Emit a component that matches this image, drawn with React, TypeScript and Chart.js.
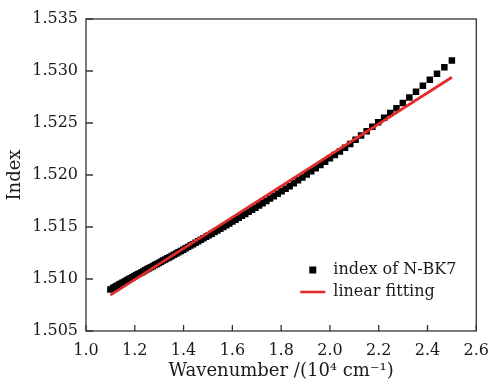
import React, { useEffect, useRef } from "react";
import { Chart, registerables } from "chart.js";

Chart.register(...registerables);

// Wavenumber (10^4 cm^-1) of the measured points
const wavenumber = [
  1.1, 1.1111, 1.1173, 1.1236, 1.1299, 1.1364, 1.1429, 1.1494, 1.1561, 1.1628,
  1.1696, 1.1765, 1.1834, 1.1905, 1.1976, 1.2048, 1.2121, 1.2195, 1.227, 1.2346,
  1.2422, 1.25, 1.2579, 1.2658, 1.2739, 1.2821, 1.2903, 1.2987, 1.3072, 1.3158,
  1.3245, 1.3333, 1.3423, 1.3514, 1.3605, 1.3699, 1.3793, 1.3889, 1.3986, 1.4085,
  1.4184, 1.4286, 1.4388, 1.4493, 1.4599, 1.4706, 1.4815, 1.4925, 1.5038, 1.5152,
  1.5267, 1.5385, 1.5504, 1.5625, 1.5748, 1.5873, 1.6, 1.6129, 1.626, 1.6393,
  1.6529, 1.6667, 1.6807, 1.6949, 1.7094, 1.7241, 1.7391, 1.7544, 1.7699, 1.7857,
  1.8018, 1.8182, 1.8349, 1.8519, 1.8692, 1.8868, 1.9048, 1.9231, 1.9417, 1.9608,
  1.9802, 2.0, 2.0202, 2.0408, 2.0619, 2.0833, 2.1053, 2.1277, 2.1505, 2.1739,
  2.1978, 2.2222, 2.2472, 2.2727, 2.2989, 2.3256, 2.3529, 2.381, 2.4096, 2.439,
  2.4691, 2.5,
];

// Refractive index of N-BK7 at those points
const indexNBK7 = [
  1.50899, 1.50913, 1.50921, 1.5093, 1.50938, 1.50946, 1.50955, 1.50963, 1.50972, 1.50981,
  1.5099, 1.50999, 1.51008, 1.51017, 1.51026, 1.51036, 1.51045, 1.51054, 1.51063, 1.51073,
  1.51083, 1.51093, 1.51103, 1.51113, 1.51123, 1.51134, 1.51144, 1.51155, 1.51166, 1.51177,
  1.51188, 1.51199, 1.5121, 1.51222, 1.51234, 1.51246, 1.51258, 1.5127, 1.51282, 1.51295,
  1.51308, 1.51321, 1.51335, 1.51349, 1.51363, 1.51377, 1.51391, 1.51406, 1.51421, 1.51436,
  1.51451, 1.51467, 1.51483, 1.515, 1.51517, 1.51534, 1.51552, 1.5157, 1.51588, 1.51607,
  1.51626, 1.51646, 1.51665, 1.51685, 1.51706, 1.51728, 1.5175, 1.51773, 1.51796, 1.51819,
  1.51843, 1.51868, 1.51893, 1.51921, 1.51949, 1.51977, 1.52006, 1.52036, 1.52066, 1.52097,
  1.52128, 1.5216, 1.52193, 1.52226, 1.52261, 1.52298, 1.52338, 1.52379, 1.5242, 1.52463,
  1.52507, 1.52551, 1.52597, 1.52643, 1.52692, 1.52746, 1.52801, 1.52857, 1.52915, 1.52974,
  1.53035, 1.531,
];

// Linear fitting line end points
const fitWavenumber = [1.1, 2.5];
const fitIndex = [1.50845, 1.5294];

const xTickValues = [1.0, 1.2, 1.4, 1.6, 1.8, 2.0, 2.2, 2.4, 2.6];
const yTickValues = [1.505, 1.51, 1.515, 1.52, 1.525, 1.53, 1.535];

const seriesLabels = ["index of N-BK7", "linear fitting"];
const xTitle = "Wavenumber /(10\u2074 cm\u207B\u00B9)";
const yTitle = "Index";

const FAMILY = "'DejaVu Serif', 'Liberation Serif', serif";
const TEXT = "#1a1a1a";
const AXIS = "#333333";
const RED = "#e42b2b";

const framePlugin = {
  id: "frameAndLegend",
  afterDraw(chart: any) {
    const { ctx, chartArea, scales } = chart;
    const { left, right, top, bottom } = chartArea;
    ctx.save();
    ctx.strokeStyle = AXIS;
    ctx.lineWidth = 1.3;
    ctx.strokeRect(left, top, right - left, bottom - top);
    ctx.beginPath();
    xTickValues.forEach((v) => {
      const px = scales.x.getPixelForValue(v);
      ctx.moveTo(px, bottom);
      ctx.lineTo(px, bottom - 6);
    });
    yTickValues.forEach((v) => {
      const py = scales.y.getPixelForValue(v);
      ctx.moveTo(left, py);
      ctx.lineTo(left + 7, py);
    });
    ctx.stroke();

    // legend
    const ds = chart.data.datasets;
    const y1 = bottom - 61;
    const y2 = bottom - 39;
    ctx.fillStyle = ds[1].backgroundColor;
    ctx.fillRect(right - 167, y1 - 3.5, 7, 7);
    ctx.strokeStyle = ds[0].borderColor;
    ctx.lineWidth = 2.6;
    ctx.beginPath();
    ctx.moveTo(right - 176, y2);
    ctx.lineTo(right - 151, y2);
    ctx.stroke();
    ctx.fillStyle = TEXT;
    ctx.font = `16px ${FAMILY}`;
    ctx.textBaseline = "middle";
    ctx.textAlign = "left";
    ctx.fillText(ds[1].label, right - 143, y1);
    ctx.fillText(ds[0].label, right - 143, y2);
    ctx.restore();
  },
};

export default function App() {
  const canvasRef = useRef<HTMLCanvasElement | null>(null);

  useEffect(() => {
    const canvas = canvasRef.current;
    if (!canvas) return;
    const font = { family: FAMILY, size: 16 };
    const titleFont = { family: FAMILY, size: 18 };
    const chart = new Chart(canvas, {
      type: "scatter",
      data: {
        datasets: [
          {
            label: seriesLabels[1],
            data: fitWavenumber.map((x, i) => ({ x, y: fitIndex[i] })),
            showLine: true,
            borderColor: RED,
            backgroundColor: RED,
            borderWidth: 2.7,
            pointRadius: 0,
            pointHoverRadius: 0,
          },
          {
            label: seriesLabels[0],
            data: wavenumber.map((x, i) => ({ x, y: indexNBK7[i] })),
            showLine: false,
            pointStyle: "rect",
            pointRadius: 4.6,
            pointBorderWidth: 0,
            borderWidth: 0,
            backgroundColor: "#000000",
            borderColor: "#000000",
          },
        ],
      },
      options: {
        responsive: false,
        animation: false,
        devicePixelRatio: 1,
        layout: { padding: { left: 0, right: 14, top: 19, bottom: 0 } },
        plugins: {
          legend: { display: false },
          tooltip: { enabled: false },
        },
        scales: {
          x: {
            type: "linear",
            min: 1.0,
            max: 2.6,
            afterBuildTicks: (s: any) => {
              s.ticks = xTickValues.map((v) => ({ value: v }));
            },
            afterFit: (s: any) => {
              s.height = 52;
            },
            ticks: {
              callback: (v: any) => Number(v).toFixed(1),
              font,
              color: TEXT,
              padding: 10,
              maxRotation: 0,
              autoSkip: false,
            },
            grid: { display: false, drawTicks: false },
            border: { display: false },
            title: {
              display: true,
              text: xTitle,
              font: titleFont,
              color: TEXT,
              padding: { top: 0, bottom: 1 },
            },
          },
          y: {
            type: "linear",
            min: 1.505,
            max: 1.535,
            afterBuildTicks: (s: any) => {
              s.ticks = yTickValues.map((v) => ({ value: v }));
            },
            afterFit: (s: any) => {
              s.width = 86;
            },
            ticks: {
              callback: (v: any) => Number(v).toFixed(3),
              font,
              color: TEXT,
              padding: 8,
              autoSkip: false,
            },
            grid: { display: false, drawTicks: false },
            border: { display: false },
            title: {
              display: true,
              text: yTitle,
              font: titleFont,
              color: TEXT,
              padding: { top: 5, bottom: 0 },
            },
          },
        },
      },
      plugins: [framePlugin],
    });
    return () => chart.destroy();
  }, []);

  return (
    <div style={{ position: "fixed", left: 0, top: 0, width: 499, height: 383, background: "#fff" }}>
      <canvas ref={canvasRef} width={499} height={383} style={{ width: 499, height: 383, display: "block" }} />
    </div>
  );
}
